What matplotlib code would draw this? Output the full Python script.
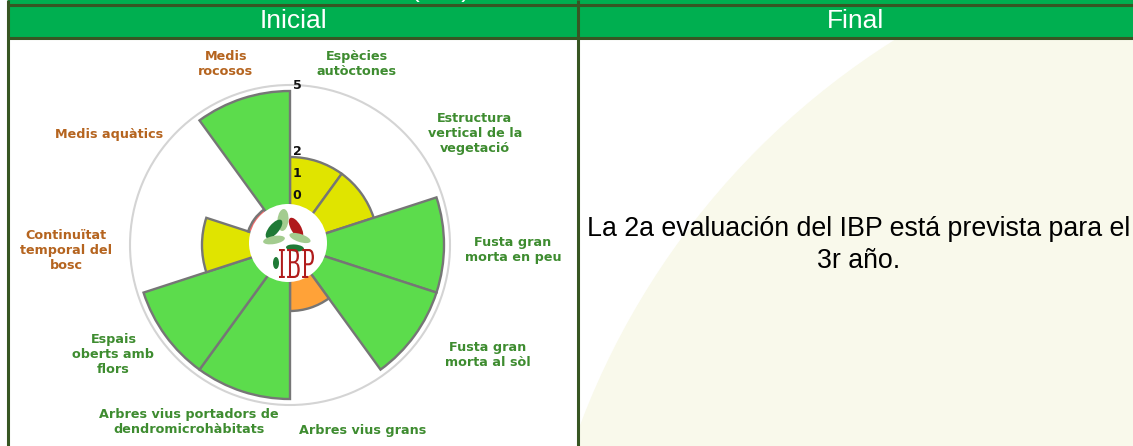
import numpy as np
import matplotlib
matplotlib.use('Agg')
import matplotlib.pyplot as plt
from matplotlib.patches import Rectangle, Circle, Ellipse, PathPatch
from matplotlib.textpath import TextPath
from matplotlib.font_manager import FontProperties
from matplotlib.transforms import Affine2D

# data
categories = ['Espècies\nautòctones', 'Estructura\nvertical de la\nvegetació',
              'Fusta gran\nmorta en peu', 'Fusta gran\nmorta al sòl',
              'Arbres vius grans', 'Arbres vius portadors de\ndendromicrohàbitats',
              'Espais\noberts amb\nflors', 'Continuïtat\ntemporal del\nbosc',
              'Medis aquàtics', 'Medis\nrocosos']
values = [2, 2, 5, 5, 1, 5, 5, 2, 0, 5]
label_group = ['forest', 'forest', 'forest', 'forest', 'forest', 'forest',
               'forest', 'context', 'context', 'context']
tick_values = [0, 1, 2, 5]
col_titles = ['Inicial', 'Final']
final_note = 'La 2a evaluación del IBP está prevista para el\n3r año.'

# styles
W, H = 1133, 446
header_green = '#00af50'
border = '#375623'
score_colors = {0: '#f26a6a', 1: '#ffa238', 2: '#e0e400', 5: '#5cdc4c'}
group_colors = {'forest': '#3e8c30', 'context': '#b5641f'}

# chart geometry (pixels)
cx, cy = 290, 245
r_zero, r_unit = 44, 22
r_out = 160
rmin = -r_zero / r_unit
rmax = (r_out - r_zero) / r_unit

# label placement: angle (deg clockwise from top), radius (px)
label_pos = [(20.3, 193), (58.8, 216), (91.3, 223), (119.1, 226), (158.7, 199),
             (209.7, 204), (238.1, 208), (268.7, 224), (301.5, 212), (340.5, 192)]

fig = plt.figure(figsize=(W / 100, H / 100), dpi=100)

# table background
bg = fig.add_axes([0, 0, 1, 1], zorder=0)
bg.set_xlim(0, W)
bg.set_ylim(H, 0)
bg.axis('off')

bg.add_patch(Rectangle((8, 0), W - 8, 38, facecolor=header_green, edgecolor='none'))
right_cell = Rectangle((578, 38), W - 578, H - 38, facecolor='white', edgecolor='none')
bg.add_patch(right_cell)
cream = Circle((1310, 700), 780, facecolor='#f9f9eb', edgecolor='none')
bg.add_patch(cream)
cream.set_clip_path(right_cell)

bg.plot([8, W], [4.5, 4.5], color=border, lw=2.2, solid_capstyle='butt')
bg.plot([8, W], [37.5, 37.5], color=border, lw=2.2, solid_capstyle='butt')
bg.plot([8, 8], [0, H], color=border, lw=2.2, solid_capstyle='butt')
bg.plot([578, 578], [0, H], color=border, lw=2.2, solid_capstyle='butt')

# title row above, mostly cut off by the top edge
bg.text(440, -2.5, '(IBP)', color='white', fontsize=19, family='Liberation Sans',
        ha='center', va='baseline')
bg.text(293, 21.5, col_titles[0], color='white', fontsize=19, family='Liberation Sans',
        ha='center', va='center')
bg.text(855.5, 21.5, col_titles[1], color='white', fontsize=19, family='Liberation Sans',
        ha='center', va='center')
bg.text(859, 245, final_note, color='black', fontsize=19.3, family='Liberation Sans',
        ha='center', va='center', multialignment='center', linespacing=1.3)

# polar chart
ax = fig.add_axes([(cx - r_out) / W, (H - cy - r_out) / H, 2 * r_out / W, 2 * r_out / H],
                  projection='polar', zorder=1)
ax.set_theta_zero_location('N')
ax.set_theta_direction(-1)
ax.set_ylim(rmin, rmax)
n = len(values)
width = 2 * np.pi / n
theta = (np.arange(n) + 0.5) * width
vals = np.array(values, dtype=float)
ax.bar(theta, vals - rmin, bottom=rmin, width=width,
       color=[score_colors[v] for v in values], edgecolor='#767676', linewidth=1.7)
ax.grid(False)
ax.set_xticks([])
ax.set_yticks([])
ax.spines['polar'].set_color('#d4d4d4')
ax.spines['polar'].set_linewidth(1.5)
ax.patch.set_facecolor('white')

for t in tick_values:
    ax.annotate(str(t), xy=(0, t), xytext=(2, 4), textcoords='offset points',
                ha='left', va='center', fontsize=9, fontweight='bold', color='#111111')

for lab, grp, (ang, rp) in zip(categories, label_group, label_pos):
    ax.text(np.deg2rad(ang), (rp - r_zero) / r_unit, lab, ha='center', va='center',
            fontsize=9.2, fontweight='bold', color=group_colors[grp],
            family='DejaVu Sans', linespacing=1.2, clip_on=False)

# logo overlay
ov = fig.add_axes([0, 0, 1, 1], zorder=2)
ov.set_xlim(0, W)
ov.set_ylim(H, 0)
ov.axis('off')
lx, ly = 288, 243
ov.add_patch(Circle((lx, ly), 39, facecolor='white', edgecolor='none'))
leaves = [
    ((-5, -23), 11, 22, 5, '#a3cc8f'),
    ((8, -15), 10, 23, -30, '#b0191c'),
    ((-14, -14), 10, 23, 40, '#1f7a36'),
    ((12, -5), 8, 22, -72, '#a3cc8f'),
    ((-14, -3), 8, 22, 80, '#a3cc8f'),
    ((7, 5), 7, 18, -85, '#1f7a36'),
    ((-12, 20), 6, 12, 0, '#1f7a36'),
]
for (dx, dy), w, h, a, c in leaves:
    ov.add_patch(Ellipse((lx + dx, ly + dy), w, h, angle=a, facecolor=c, edgecolor='none'))

tp = TextPath((0, 0), 'IBP', size=1, prop=FontProperties(family='DejaVu Serif'))
ext = tp.get_extents()
x0, x1, y0, y1 = 279, 314, 249, 278
tr = (Affine2D().translate(-ext.x0, -ext.y0)
      .scale((x1 - x0) / ext.width, -(y1 - y0) / ext.height)
      .translate(x0, y1))
ov.add_patch(PathPatch(tr.transform_path(tp), facecolor='#b01c1c', edgecolor='none'))

fig.savefig('out.png', dpi=100)
